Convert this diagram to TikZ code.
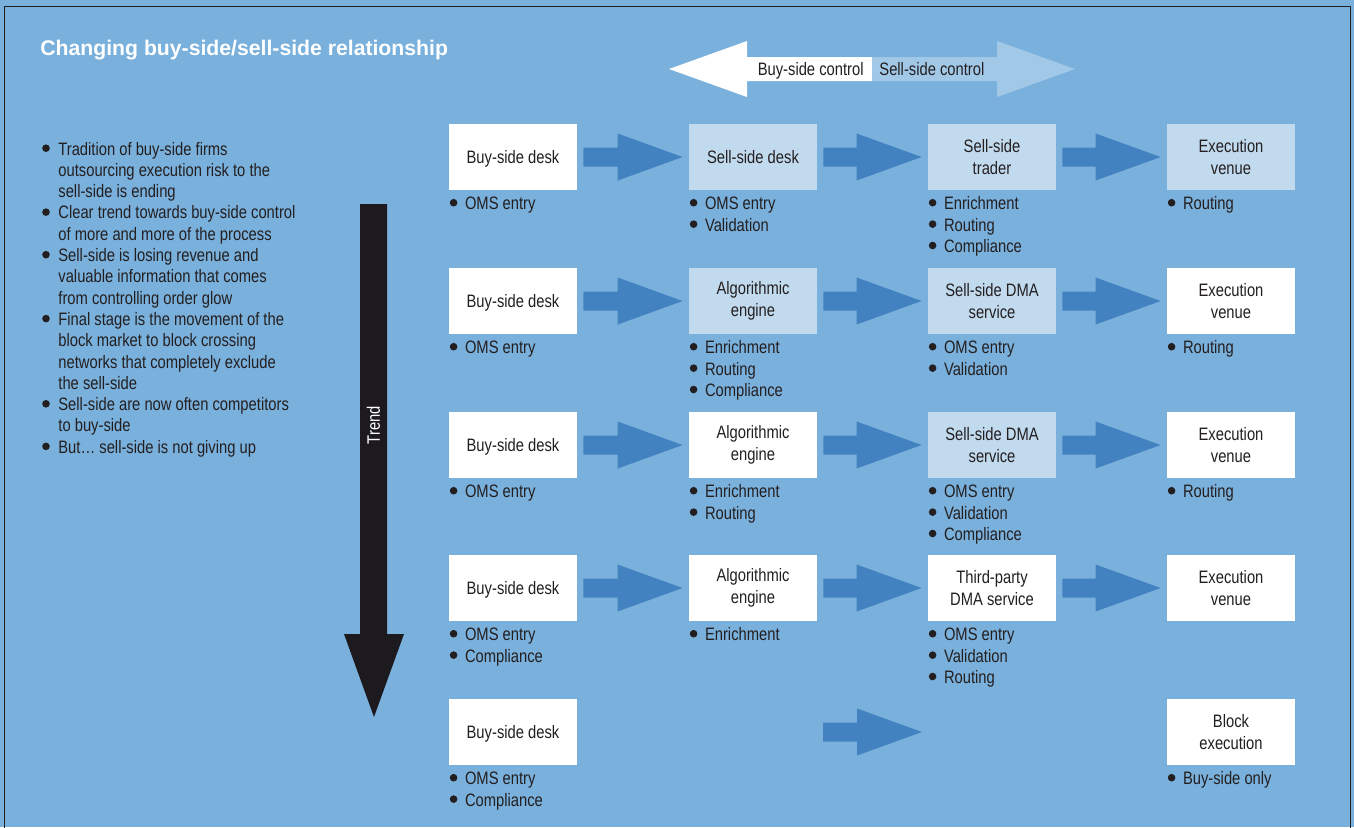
\documentclass[tikz,border=0pt]{standalone}
\usepackage{fontspec}
\setmainfont{Liberation Sans}
\newfontfamily\condfont[FakeStretch=0.82]{Liberation Sans}
\usetikzlibrary{calc}
\definecolor{bgblue}{HTML}{7AB0DC}
\definecolor{paleblue}{HTML}{C2DAEE}
\definecolor{flowblue}{HTML}{4382C1}
\definecolor{sellblue}{HTML}{A2C8E8}
\definecolor{ink}{HTML}{231F20}
\definecolor{trendblack}{HTML}{1C1A1E}
\newcommand\flowarrow[2]{%
  \fill[flowblue] ($(#1)+(6,-9.5)$) -- ($(#2)+(-71,-9.5)$) -- ($(#2)+(-71,-23.5)$)
    -- ($(#2)+(-6,0)$) -- ($(#2)+(-71,23.5)$) -- ($(#2)+(-71,9.5)$)
    -- ($(#1)+(6,9.5)$) -- cycle;}
\newcommand\steplist[2]{%
  \foreach \t [count=\i] in {#2}{
    \node[listline] (#1-\i) at ($(#1.south west)+(0,19.5+21.4*\i-21.4)$) {\t};
    \fill[ink] ($(#1-\i.base west)+(5,-7.2)$) circle (3.8);
  }}
\begin{document}
\begin{tikzpicture}[x=0.5pt,y=-0.5pt,
  stage/.style={fill=white,minimum width=64pt,minimum height=33pt,inner sep=0pt,
    align=center,text=ink,font=\condfont\fontsize{9}{11}\selectfont},
  stagepale/.style={stage,fill=paleblue},
  oneline/.style={text depth=0pt},
  plainline/.style={anchor=base west,inner sep=0pt,text=ink,
    font=\condfont\fontsize{9}{10.7}\selectfont},
  listline/.style={plainline,execute at begin node={\hspace*{8pt}}}]
\useasboundingbox (0,0) rectangle (1354,827);
\fill[bgblue] (0,0) rectangle (1354,827);
\draw[ink,line width=0.75pt] (4.5,835) |- (1350.5,6.5) -- (1350.5,835);
\node[anchor=base west,inner sep=0pt,text=white,font=\bfseries\fontsize{10.6}{12}\selectfont]
  (title) at (40,55) {Changing buy-side/sell-side relationship};
\fill[white] (669,69) -- (747,41) -- (747,57) -- (872,57) -- (872,81) -- (747,81) -- (747,97) -- cycle;
\fill[sellblue] (872,57) -- (997,57) -- (997,41) -- (1075,69) -- (997,97) -- (997,81) -- (872,81) -- cycle;
\node[plainline,anchor=base east] (buyctl) at (864,75.5) {Buy-side control};
\node[plainline] (sellctl) at (879,75.5) {Sell-side control};
\foreach \t [count=\i] in {Tradition of buy-side firms,
    outsourcing execution risk to the,
    sell-side is ending,
    Clear trend towards buy-side control,
    of more and more of the process,
    Sell-side is losing revenue and,
    valuable information that comes,
    from controlling order glow,
    Final stage is the movement of the,
    block market to block crossing,
    networks that completely exclude,
    the sell-side,
    Sell-side are now often competitors,
    to buy-side,
    But… sell-side is not giving up}
  \node[listline] (note-\i) at (42,155+21.3*\i-21.3) {\t};
\foreach \i in {1,4,6,9,13,15}
  \fill[ink] ($(note-\i.base west)+(4,-6.8)$) circle (3.8);
\fill[trendblack] (360,204) -- (387,204) -- (387,634) -- (404,634) -- (374,717) -- (344,634) -- (360,634) -- cycle;
\node[rotate=90,text=white,inner sep=0pt,font=\condfont\fontsize{9}{11}\selectfont] (trend) at (373.5,425) {Trend};
\node[stage,oneline] (b11) at (513,157) {Buy-side desk};
\node[stagepale,oneline] (b12) at (753,157) {Sell-side desk};
\node[stagepale] (b13) at (992,157) {Sell-side\\trader};
\node[stagepale] (b14) at (1231,157) {Execution\\venue};
\node[stage,oneline] (b21) at (513,301) {Buy-side desk};
\node[stagepale] (b22) at (753,301) {Algorithmic\\engine};
\node[stagepale] (b23) at (992,301) {Sell-side DMA\\service};
\node[stage] (b24) at (1231,301) {Execution\\venue};
\node[stage,oneline] (b31) at (513,445) {Buy-side desk};
\node[stage] (b32) at (753,445) {Algorithmic\\engine};
\node[stagepale] (b33) at (992,445) {Sell-side DMA\\service};
\node[stage] (b34) at (1231,445) {Execution\\venue};
\node[stage,oneline] (b41) at (513,588) {Buy-side desk};
\node[stage] (b42) at (753,588) {Algorithmic\\engine};
\node[stage] (b43) at (992,588) {Third-party\\DMA service};
\node[stage] (b44) at (1231,588) {Execution\\venue};
\node[stage,oneline] (b51) at (513,732) {Buy-side desk};
\node[stage] (b54) at (1231,732) {Block\\execution};
\coordinate (r5from) at (817,732);
\coordinate (r5to) at (928,732);
\foreach \r in {1,2,3,4}{
  \flowarrow{b\r1.east}{b\r2.west}
  \flowarrow{b\r2.east}{b\r3.west}
  \flowarrow{b\r3.east}{b\r4.west}
}
\flowarrow{r5from}{r5to}
\steplist{b11}{OMS entry}
\steplist{b12}{OMS entry,Validation}
\steplist{b13}{Enrichment,Routing,Compliance}
\steplist{b14}{Routing}
\steplist{b21}{OMS entry}
\steplist{b22}{Enrichment,Routing,Compliance}
\steplist{b23}{OMS entry,Validation}
\steplist{b24}{Routing}
\steplist{b31}{OMS entry}
\steplist{b32}{Enrichment,Routing}
\steplist{b33}{OMS entry,Validation,Compliance}
\steplist{b34}{Routing}
\steplist{b41}{OMS entry,Compliance}
\steplist{b42}{Enrichment}
\steplist{b43}{OMS entry,Validation,Routing}
\steplist{b51}{OMS entry,Compliance}
\steplist{b54}{Buy-side only}
\end{tikzpicture}
\end{document}
